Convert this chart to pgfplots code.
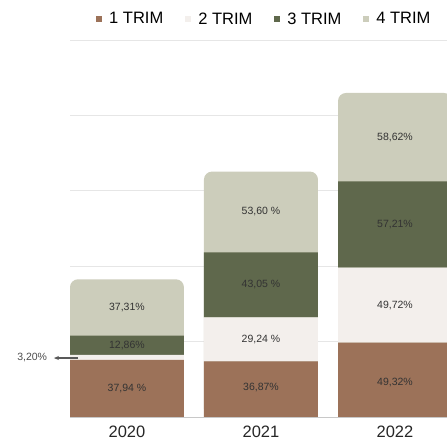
\documentclass[border=0pt]{standalone}
\usepackage{pgfplots}
\pgfplotsset{compat=1.18}
\usepackage{fontspec}
\setmainfont{Liberation Sans}
\usetikzlibrary{arrows.meta}
\definecolor{cA}{HTML}{9C7259}
\definecolor{cB}{HTML}{F3EFEC}
\definecolor{cC}{HTML}{5F684C}
\definecolor{cD}{HTML}{CCCDBB}
\definecolor{gridc}{HTML}{E6E6E6}
\definecolor{basec}{HTML}{C8C8C8}
\definecolor{lbl}{HTML}{333333}
\pgfplotsset{
  base/.style={
    at={(70bp,25bp)}, anchor=south west,
    scale only axis, width=377bp, height=377bp,
    xmin=-0.425, xmax=2.388, ymin=0, ymax=250,
    axis line style={draw=none},
    major tick length=0pt,
    bar width=114bp,
  },
  sqleg/.style={legend image code/.code={\fill[##1, draw=none] (0bp,-3bp) rectangle (6bp,3bp);}},
}
\newcommand{\vl}{\fontsize{10.5bp}{12bp}\selectfont\color{lbl}}
\begin{document}
\begin{tikzpicture}
% background axis: grid, year labels, totals (4 TRIM shown as the rounded top)
\begin{axis}[base, ybar,
  ytick={50,100,150,200,250}, yticklabels={},
  ymajorgrids, grid style={gridc, line width=0.8bp},
  extra y ticks={0}, extra y tick labels={},
  extra y tick style={grid style={basec, line width=1bp}},
  xtick={0,1,2}, xticklabels={2020,2021,2022},
  xticklabel style={anchor=north, inner sep=0pt, yshift=-9bp,
    font=\fontsize{16.5bp}{19bp}\selectfont, text=black!85},
]
\addplot[fill=cD, draw=none, rounded corners=8bp] coordinates {(0,91.31) (1,162.76) (2,214.87)};
\end{axis}
% foreground axis: stacked quarters 1-3
\begin{axis}[base, ybar stacked,
  every axis plot post/.append style={sqleg},
  xtick=\empty, ytick=\empty,
  legend columns=4,
  legend style={at={(0.0690,1.0557)}, anchor=west, draw=none, fill=none,
    inner sep=0pt,
    font=\fontsize{16.5bp}{19bp}\selectfont,
    /tikz/every odd column/.append style={column sep=5bp},
    /tikz/every even column/.append style={column sep=20bp},
  },
]
\addplot[fill=cA, draw=none] coordinates {(0,37.94) (1,36.87) (2,49.32)};
\addplot[fill=cB, draw=none] coordinates {(0,3.20) (1,29.24) (2,49.72)};
\addplot[fill=cC, draw=none] coordinates {(0,12.86) (1,43.05) (2,57.21)};
\addlegendimage{fill=cD, draw=none, sqleg}
\legend{1 TRIM, 2 TRIM, 3 TRIM, 4 TRIM}
\end{axis}
% label layer
\begin{axis}[base, hide axis, clip=false]
\node[font=\vl] at (axis cs:0,18.97) {37,94 \%};
\node[font=\vl] at (axis cs:0,47.57) {12,86\%};
\node[font=\vl] at (axis cs:0,72.66) {37,31\%};
\node[font=\vl] at (axis cs:1,19.8) {36,87\%};
\node[font=\vl] at (axis cs:1,51.49) {29,24 \%};
\node[font=\vl] at (axis cs:1,87.64) {43,05 \%};
\node[font=\vl] at (axis cs:1,135.96) {53,60 \%};
\node[font=\vl] at (axis cs:2,23.0) {49,32\%};
\node[font=\vl] at (axis cs:2,74.18) {49,72\%};
\node[font=\vl] at (axis cs:2,127.65) {57,21\%};
\node[font=\vl] at (axis cs:2,185.56) {58,62\%};
\draw[-{Stealth[length=5bp,width=4bp]}, line width=1.2bp, black!65] (axis cs:-0.365,39.1) -- (axis cs:-0.545,39.1);
\node[font=\fontsize{10.5bp}{12bp}\selectfont\color{black!70}, anchor=east] at (axis cs:-0.57,39.6) {3,20\%};
\end{axis}
\pgfresetboundingbox
\path[use as bounding box] (0,0) rectangle (447bp,442bp);
\end{tikzpicture}
\end{document}
